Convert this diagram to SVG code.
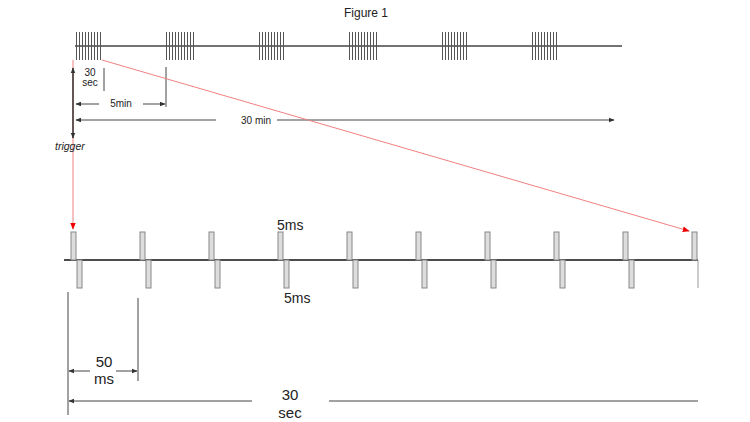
<svg xmlns="http://www.w3.org/2000/svg" width="750" height="422" viewBox="0 0 750 422">
<style>
text{font-family:"Liberation Sans",Arial,sans-serif;fill:#222}
.base{stroke:#444;stroke-width:1.5;fill:none}
.dim{stroke:#444;stroke-width:1;fill:none}
.red{stroke:#f08080;stroke-width:1;fill:none}
.pu{fill:#ddd;stroke:#888;stroke-width:1}
</style>
<defs>
<marker id="ah" viewBox="0 0 10 10" refX="9" refY="5" markerWidth="6" markerHeight="6" orient="auto-start-reverse" markerUnits="userSpaceOnUse"><path d="M0,1 L10,5 L0,9 z" fill="#333"/></marker>
<marker id="ar" viewBox="0 0 10 10" refX="9" refY="5" markerWidth="7" markerHeight="7" orient="auto" markerUnits="userSpaceOnUse"><path d="M0,1 L10,5 L0,9 z" fill="#e00"/></marker>
<pattern id="train" x="0" y="0" width="3" height="28" patternUnits="userSpaceOnUse"><line x1="1.5" y1="0" x2="1.5" y2="28" stroke="#555" stroke-width="1"/></pattern>
</defs>
<text x="366" y="17" font-size="12" text-anchor="middle">Figure 1</text>
<g id="top-timeline">
<line class="base" x1="75" y1="46" x2="622" y2="46"/>
<g id="trains">
<rect x="75" y="32" width="28" height="28" fill="url(#train)"/>
<rect x="166" y="32" width="28" height="28" fill="url(#train)"/>
<rect x="258" y="32" width="28" height="28" fill="url(#train)"/>
<rect x="349" y="32" width="28" height="28" fill="url(#train)"/>
<rect x="440" y="32" width="28" height="28" fill="url(#train)"/>
<rect x="531" y="32" width="28" height="28" fill="url(#train)"/>
</g>
</g>
<g id="top-dims">
<line class="dim" x1="104" y1="68" x2="104" y2="91"/>
<line class="dim" x1="166" y1="67" x2="166" y2="107"/>
<text x="90" y="76" font-size="10" text-anchor="middle">30</text>
<text x="90" y="86" font-size="10" text-anchor="middle">sec</text>
<line class="dim" x1="99" y1="104" x2="76" y2="104" marker-end="url(#ah)"/>
<line class="dim" x1="143" y1="104" x2="165" y2="104" marker-end="url(#ah)"/>
<text x="121" y="107" font-size="10" text-anchor="middle">5min</text>
<line class="dim" x1="216" y1="120" x2="76" y2="120" marker-end="url(#ah)"/>
<line class="dim" x1="277" y1="120" x2="614" y2="120" marker-end="url(#ah)"/>
<text x="256" y="124" font-size="10" text-anchor="middle">30 min</text>
</g>
<g id="connectors">
<line class="red" x1="73" y1="60" x2="73" y2="229" marker-end="url(#ar)"/>
<line class="red" x1="102" y1="60" x2="689" y2="231" marker-end="url(#ar)"/>
</g>
<g id="trigger">
<line x1="73" y1="68" x2="73" y2="138" stroke="#333" stroke-width="1.5" marker-start="url(#ah)" marker-end="url(#ah)"/>
<text x="55" y="150" font-size="10.5" font-style="italic">trigger</text>
</g>
<g id="bottom-timeline">
<line x1="64" y1="260" x2="698" y2="260" stroke="#111" stroke-width="1.5"/>
<g id="pulses">
<rect class="pu" x="71" y="232" width="5" height="28"/><rect class="pu" x="77" y="260" width="5" height="28"/>
<rect class="pu" x="140" y="232" width="5" height="28"/><rect class="pu" x="146" y="260" width="5" height="28"/>
<rect class="pu" x="209" y="232" width="5" height="28"/><rect class="pu" x="215" y="260" width="5" height="28"/>
<rect class="pu" x="278" y="232" width="5" height="28"/><rect class="pu" x="284" y="260" width="5" height="28"/>
<rect class="pu" x="347" y="232" width="5" height="28"/><rect class="pu" x="353" y="260" width="5" height="28"/>
<rect class="pu" x="416" y="232" width="5" height="28"/><rect class="pu" x="422" y="260" width="5" height="28"/>
<rect class="pu" x="485" y="232" width="5" height="28"/><rect class="pu" x="491" y="260" width="5" height="28"/>
<rect class="pu" x="554" y="232" width="5" height="28"/><rect class="pu" x="560" y="260" width="5" height="28"/>
<rect class="pu" x="623" y="232" width="5" height="28"/><rect class="pu" x="629" y="260" width="5" height="28"/>
<rect class="pu" x="692" y="232" width="5" height="28"/>
<line x1="698" y1="260" x2="698" y2="288" stroke="#999" stroke-width="1"/>
</g>
<text x="277" y="230" font-size="14">5ms</text>
<text x="284" y="303" font-size="14">5ms</text>
</g>
<g id="bottom-dims">
<line class="dim" x1="68" y1="292" x2="68" y2="415"/>
<line class="dim" x1="138" y1="298" x2="138" y2="381"/>
<line class="dim" x1="90" y1="371" x2="69" y2="371" marker-end="url(#ah)"/>
<line class="dim" x1="116" y1="371" x2="137" y2="371" marker-end="url(#ah)"/>
<text x="104" y="367" font-size="15" text-anchor="middle">50</text>
<text x="104" y="384" font-size="15" text-anchor="middle">ms</text>
<line class="dim" x1="252" y1="401" x2="69" y2="401" marker-end="url(#ah)"/>
<line class="dim" x1="329" y1="401" x2="698" y2="401"/>
<text x="290" y="400" font-size="15" text-anchor="middle">30</text>
<text x="290" y="418" font-size="15" text-anchor="middle">sec</text>
</g>
</svg>
